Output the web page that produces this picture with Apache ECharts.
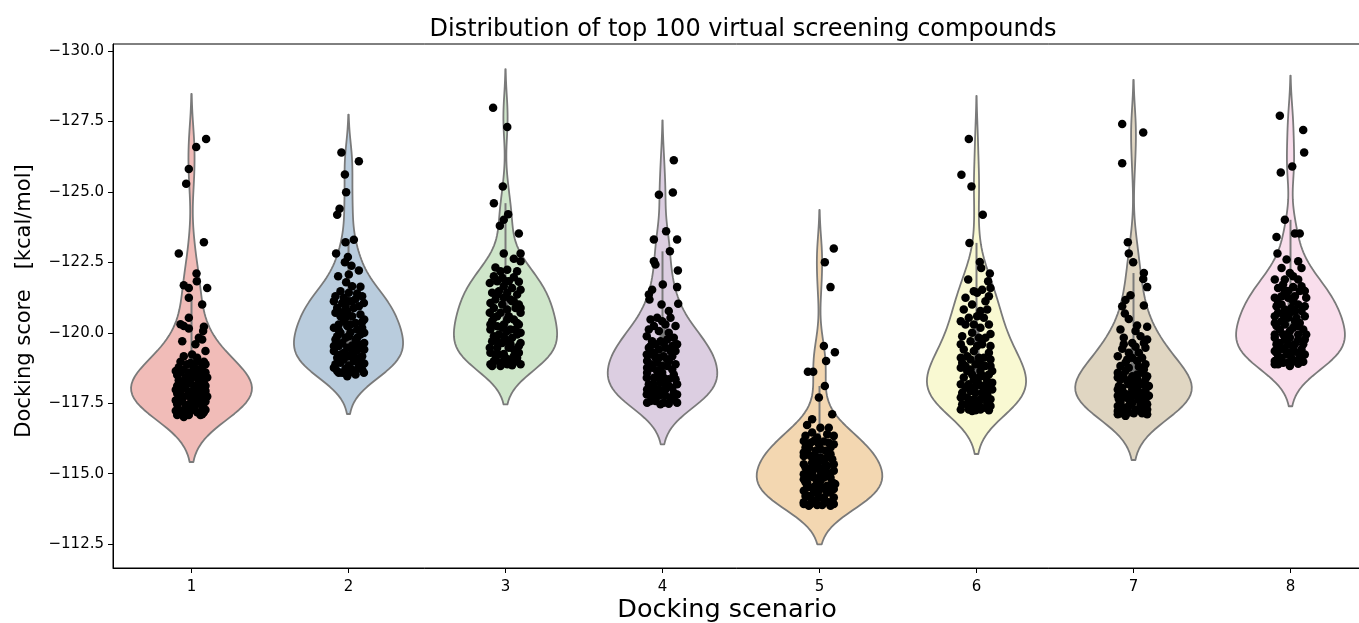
<!DOCTYPE html>
<html>
<head>
<meta charset="utf-8">
<script src="https://cdn.jsdelivr.net/npm/echarts@6/dist/echarts.min.js"></script>
<style>
  html, body { margin: 0; padding: 0; background: #ffffff; }
  #chart { width: 1359px; height: 623px; }
</style>
</head>
<body>
<div id="chart"></div>
<script>
// Docking scenarios on the x axis
const scenarios = ['1', '2', '3', '4', '5', '6', '7', '8'];
// Score ticks on the y axis (kcal/mol)
const scoreTicks = [-130, -127.5, -125, -122.5, -120, -117.5, -115, -112.5];

// Each compound: [horizontal jitter in category units, docking score in kcal/mol]
const strip1 = [
  [0.093,-126.88],[0.030,-126.59],[-0.017,-125.81],[-0.034,-125.29],[0.079,-123.21],[-0.081,-122.81],[0.032,-122.10],[0.034,-121.83],[-0.049,-121.69],[-0.017,-121.59],
  [0.100,-121.59],[-0.017,-121.24],[0.068,-121.00],[-0.017,-120.53],[-0.070,-120.30],[-0.049,-120.24],[-0.017,-120.15],[0.079,-120.21],[0.074,-120.06],[-0.059,-119.70],
  [0.047,-119.82],[0.068,-119.76],[0.025,-119.59],[0.089,-119.35],[0.004,-119.23],[-0.049,-119.17],[0.036,-119.11],
  [-0.070,-118.97],[0.036,-118.97],[0.079,-118.97],[-0.028,-118.88],[0.089,-118.88],[-0.081,-118.78],[0.015,-118.78],[0.068,-118.78],[-0.049,-118.69],[0.047,-118.69],
  [-0.070,-118.59],[-0.017,-118.59],[0.089,-118.59],[-0.091,-118.50],[0.025,-118.50],[0.068,-118.50],[-0.038,-118.41],[0.004,-118.41],[0.100,-118.41],[-0.081,-118.31],
  [0.047,-118.31],[-0.059,-118.22],[-0.006,-118.22],[0.079,-118.22],[-0.091,-118.12],[0.025,-118.12],[0.089,-118.12],[-0.038,-118.03],[0.057,-118.03],[-0.070,-117.93],
  [0.004,-117.93],[0.089,-117.93],[-0.091,-117.84],[-0.017,-117.84],[0.068,-117.84],[-0.049,-117.74],[0.036,-117.74],[0.100,-117.74],[-0.081,-117.65],[0.004,-117.65],
  [0.068,-117.65],[-0.059,-117.56],[0.047,-117.56],[0.089,-117.56],[-0.091,-117.46],[-0.017,-117.46],[0.025,-117.46],[-0.038,-117.37],[0.068,-117.37],[-0.081,-117.27],
  [0.004,-117.27],[0.089,-117.27],[-0.059,-117.18],[0.036,-117.18],[0.079,-117.18],[-0.091,-117.08],[-0.017,-117.08],[0.057,-117.08],
  [-0.006,-118.93],[-0.100,-118.64],[0.015,-118.55],[-0.028,-118.26],[0.068,-118.17],[-0.100,-117.98],[0.036,-117.89],[-0.006,-117.70],[-0.100,-117.60],[0.079,-117.51],
  [0.015,-117.32],[-0.100,-117.23],[-0.028,-117.13],[0.068,-117.11],[-0.049,-117.01]
];
const strip2 = [
  [-0.045,-126.40],[0.066,-126.09],[-0.023,-125.62],[-0.015,-124.99],[-0.057,-124.40],[-0.072,-124.19],[0.034,-123.30],[-0.019,-123.21],[-0.079,-122.81],[-0.004,-122.69],
  [-0.023,-122.50],[0.019,-122.38],[0.066,-122.21],[0.002,-122.07],[-0.066,-122.01],[-0.015,-121.79],[0.076,-121.63],[0.023,-121.65],[-0.051,-121.47],[-0.083,-121.30],
  [0.002,-121.42],[0.055,-121.39],[0.087,-121.30],
  [-0.093,-121.12],[-0.040,-121.06],[0.023,-121.12],[0.098,-121.06],[-0.072,-120.88],[-0.019,-120.94],[0.066,-120.94],[-0.083,-120.71],[0.076,-120.65],[0.023,-120.59],
  [-0.062,-120.29],[0.045,-120.35],[0.087,-120.38],[-0.093,-120.18],[-0.008,-120.24],[0.055,-120.12],[-0.051,-120.00],[0.013,-120.02],[0.076,-119.94],[-0.083,-119.76],
  [-0.019,-119.82],[0.045,-119.74],[0.100,-119.64],[-0.062,-119.53],[0.023,-119.55],[0.087,-119.47],[-0.093,-119.35],[-0.030,-119.29],[0.055,-119.38],[-0.072,-119.11],
  [0.002,-119.17],[0.087,-119.17],[-0.051,-118.94],[0.034,-118.99],[0.100,-118.91],[-0.093,-118.76],[-0.019,-118.72],[0.066,-118.76],[-0.062,-118.58],[0.013,-118.61],
  [0.087,-118.70],
  [-0.030,-121.24],[0.045,-121.20],[-0.008,-120.77],[-0.051,-120.59],[0.100,-120.47],[-0.030,-120.41],[0.013,-120.29],[-0.072,-119.88],[0.087,-120.18],[0.002,-119.88],
  [-0.040,-119.64],[0.066,-119.59],[-0.008,-119.47],[0.100,-119.41],[0.023,-119.29],[-0.051,-119.23],[0.045,-119.11],[-0.030,-119.05],[-0.083,-118.88],[0.066,-118.88],
  [0.002,-118.84],[0.098,-118.58],[-0.040,-118.58],[0.045,-118.52],[-0.008,-118.46],[-0.072,-118.64],[0.023,-118.70],[0.076,-119.11],[-0.093,-119.53],[0.055,-119.82],
  [-0.062,-120.09],[0.100,-120.00],[-0.019,-120.53],[0.034,-120.88],[-0.040,-120.73],[0.002,-121.12]
];
const strip3 = [
  [-0.079,-127.99],[0.011,-127.30],[-0.017,-125.19],[-0.074,-124.60],[0.017,-124.21],[-0.011,-124.01],[-0.036,-123.80],[0.085,-123.52],[-0.011,-122.81],[0.096,-122.81],
  [0.053,-122.63],[0.096,-122.54],[-0.064,-122.32],[0.011,-122.24],[-0.074,-122.01],[0.053,-121.97],[-0.053,-121.83],[0.085,-121.81],[-0.011,-121.65],[0.042,-121.59],
  [-0.085,-121.42],[0.074,-121.36],[-0.011,-121.24],[-0.064,-121.18],[0.042,-121.12],[0.085,-121.00],[-0.074,-120.88],[0.011,-120.83],[-0.032,-120.71],[0.096,-120.71],
  [-0.085,-120.41],[0.053,-120.47],[-0.011,-120.29],[-0.096,-120.12],[0.085,-120.29],[0.032,-120.12],[-0.042,-119.94],[0.074,-119.94],[-0.085,-119.70],[0.011,-119.70],
  [0.096,-119.64],[-0.053,-119.47],[0.053,-119.41],[-0.096,-119.29],[-0.011,-119.25],[0.085,-119.29],[-0.064,-119.05],[0.032,-119.05],[-0.032,-118.94],[-0.096,-118.88],
  [0.074,-118.99],[0.011,-118.88],
  [-0.032,-122.18],[-0.100,-121.77],[0.021,-121.83],[-0.042,-121.47],[0.096,-121.53],[0.011,-121.42],[-0.096,-121.06],[-0.021,-121.00],[0.064,-120.88],[-0.053,-120.59],
  [0.021,-120.59],[-0.100,-120.71],[0.074,-120.35],[-0.053,-120.23],[0.011,-120.06],[-0.074,-119.88],[0.042,-119.82],[-0.021,-119.64],[-0.100,-119.47],[0.021,-119.47],
  [0.085,-119.53],[-0.042,-119.23],[0.053,-119.17],[-0.074,-118.99],[-0.011,-118.99],[0.096,-118.88],[-0.032,-118.82],[0.042,-118.85],[-0.085,-118.82],[0.000,-121.83],
  [0.074,-122.18],[-0.021,-121.95],[0.032,-121.18],[-0.074,-120.53],[0.096,-120.00],[-0.011,-119.88],[0.032,-119.59],[-0.053,-119.70],[0.064,-120.12],[-0.096,-120.29],
  [0.011,-120.47],[-0.021,-120.18],[0.053,-121.12],[-0.053,-121.36],[0.096,-120.88],[-0.064,-119.23],[0.074,-119.11],[0.000,-119.11]
];
const strip4 = [
  [0.072,-126.12],[-0.023,-124.90],[0.066,-124.98],[0.023,-123.60],[-0.055,-123.31],[0.093,-123.31],[0.047,-122.89],[-0.055,-122.54],[-0.045,-122.42],[0.098,-122.21],
  [0.002,-121.71],[0.093,-121.62],[-0.066,-121.53],[-0.087,-121.36],[-0.083,-121.18],[-0.006,-121.00],[0.100,-121.03],[0.040,-120.77],[-0.076,-120.47],[-0.034,-120.53],
  [0.051,-120.53],[0.019,-120.29],[-0.087,-120.12],[0.083,-120.24],[-0.023,-120.06],[0.040,-120.00],[0.072,-119.82],[-0.066,-119.70],[0.008,-119.64],[0.093,-119.59],
  [-0.087,-119.47],[-0.023,-119.41],[0.051,-119.35],[-0.076,-119.23],[0.008,-119.17],[0.062,-119.17],[-0.098,-119.00],[-0.034,-118.94],[0.083,-118.88],[-0.066,-118.76],
  [0.030,-118.82],[-0.098,-118.58],[-0.002,-118.58],[0.072,-118.52],[-0.055,-118.40],[0.040,-118.35],[-0.087,-118.17],[-0.013,-118.23],[0.093,-118.17],[-0.066,-117.93],
  [0.019,-117.99],[0.072,-117.87],[-0.100,-117.81],[-0.023,-117.76],[0.051,-117.70],[-0.076,-117.58],[0.008,-117.52],[0.093,-117.52],
  [-0.055,-120.24],[-0.002,-120.41],[-0.100,-119.88],[0.030,-119.76],[-0.045,-119.59],[0.062,-119.53],[-0.100,-119.23],[-0.023,-119.11],[0.030,-119.05],[-0.076,-118.88],
  [-0.002,-118.82],[0.062,-118.70],[-0.034,-118.64],[-0.100,-118.40],[0.008,-118.40],[0.083,-118.35],[-0.055,-118.17],[0.040,-118.11],[-0.098,-117.99],[-0.023,-117.99],
  [0.062,-118.05],[-0.066,-117.76],[0.019,-117.76],[0.093,-117.81],[-0.045,-117.58],[0.040,-117.48],[-0.098,-117.52],[-0.013,-117.46],[0.072,-117.64],[-0.087,-117.93],
  [-0.002,-117.81],[-0.045,-119.11],[-0.076,-119.53],[0.083,-119.35],[-0.013,-119.70],[0.019,-119.47],[-0.055,-119.29],[0.040,-119.00],[-0.098,-118.76],[-0.023,-118.40],
  [0.019,-118.17],[-0.045,-117.87]
];
const strip5 = [
  [0.091,-122.99],[0.034,-122.50],[0.070,-121.62],[0.028,-119.53],[0.098,-119.31],[0.042,-119.00],[-0.074,-118.62],[-0.040,-118.62],[0.034,-118.11],[-0.004,-117.70],
  [0.081,-117.11],[-0.047,-116.93],[-0.079,-116.73],[0.006,-116.63],[0.059,-116.63],[-0.089,-116.34],[-0.015,-116.28],[0.091,-116.34],[-0.057,-116.10],[0.028,-116.14],
  [-0.089,-115.93],[0.070,-115.93],[-0.025,-115.81],[-0.057,-115.63],[0.006,-115.57],[0.081,-115.51],[-0.100,-115.33],[-0.015,-115.33],[0.049,-115.28],[-0.068,-115.16],
  [0.017,-115.04],[0.091,-115.10],[-0.100,-114.98],[-0.036,-114.86],[0.070,-114.86],[0.006,-114.74],[-0.079,-114.69],[0.049,-114.57],[-0.047,-114.51],[0.100,-114.63],
  [-0.100,-114.39],[-0.004,-114.39],[0.070,-114.33],[-0.068,-114.21],[0.028,-114.15],[-0.100,-113.98],[-0.025,-114.04],[0.059,-113.98],[-0.057,-113.92],[0.017,-113.89],
  [0.091,-113.92],
  [0.049,-116.40],[-0.047,-116.46],[-0.100,-116.16],[-0.004,-116.04],[0.091,-116.04],[-0.079,-115.75],[0.038,-115.81],[-0.100,-115.63],[-0.025,-115.57],[0.049,-115.57],
  [-0.047,-115.39],[0.028,-115.45],[0.091,-115.33],[-0.089,-115.22],[-0.004,-115.16],[0.049,-115.04],[-0.047,-115.04],[-0.100,-114.80],[0.028,-114.86],[-0.015,-114.69],
  [0.081,-114.69],[-0.079,-114.51],[0.017,-114.51],[-0.036,-114.33],[0.049,-114.33],[-0.089,-114.21],[0.091,-114.15],[-0.004,-114.15],[-0.047,-114.04],[0.038,-113.98],
  [-0.100,-113.92],[-0.015,-113.89],[0.070,-113.86],[-0.068,-113.86],[0.028,-115.22],[-0.036,-115.22],[0.070,-115.69],[-0.068,-115.93],[0.006,-115.87],[-0.100,-115.75],
  [-0.036,-116.16],[0.059,-116.10],[-0.068,-114.92],[0.006,-114.92],[0.091,-114.45],[-0.089,-114.69],[-0.025,-114.57],[0.038,-114.45],[-0.057,-114.15]
];
const strip6 = [
  [-0.049,-126.88],[-0.096,-125.61],[-0.032,-125.19],[0.040,-124.19],[-0.045,-123.19],[0.021,-122.51],[0.030,-122.30],[0.085,-122.10],[-0.053,-121.89],[0.074,-121.83],
  [0.089,-121.59],[-0.017,-121.47],[0.036,-121.53],[-0.070,-121.24],[0.004,-121.42],[0.079,-121.30],[0.057,-121.12],[-0.081,-120.83],[0.025,-120.77],[-0.049,-120.53],
  [0.004,-120.59],[0.047,-120.53],[-0.017,-120.29],[-0.070,-120.29],[0.025,-120.18],[0.089,-119.96],[-0.091,-119.88],[0.015,-119.82],[-0.038,-119.70],[0.036,-119.59],
  [-0.081,-119.41],[-0.017,-119.35],[0.079,-119.29],[-0.059,-119.17],[0.015,-119.11],[0.089,-119.05],[-0.091,-118.94],[-0.006,-118.88],[0.057,-118.82],[-0.059,-118.64],
  [0.025,-118.64],[0.100,-118.64],[-0.081,-118.41],[-0.017,-118.35],[0.068,-118.29],[-0.049,-118.17],[0.036,-118.11],[0.100,-117.99],[-0.091,-117.87],[-0.006,-117.87],
  [0.068,-117.82],[-0.059,-117.70],[0.025,-117.64],[0.089,-117.64],[-0.091,-117.46],[-0.017,-117.40],[0.057,-117.34],[-0.049,-117.28],[0.025,-117.28],
  [-0.028,-121.00],[0.068,-120.83],[-0.100,-120.41],[0.079,-120.29],[-0.028,-120.00],[0.057,-119.82],[-0.100,-119.59],[0.004,-119.53],[0.089,-119.53],[-0.038,-119.05],
  [0.047,-119.11],[-0.100,-118.76],[-0.038,-118.70],[0.079,-118.52],[0.015,-118.41],[-0.100,-118.17],[-0.006,-118.11],[0.068,-118.05],[-0.038,-117.93],[0.036,-117.87],
  [-0.100,-117.70],[-0.017,-117.64],[0.068,-117.52],[-0.059,-117.46],[0.015,-117.46],[0.089,-117.40],[-0.100,-117.28],[-0.006,-117.25],[0.079,-117.25],[-0.038,-117.58],
  [0.047,-117.72],[-0.070,-118.05],[0.015,-118.17],[0.100,-118.23],[-0.028,-118.52],[0.047,-118.46],[-0.070,-118.82],[0.025,-118.88],[-0.100,-119.11],[0.089,-118.82],
  [-0.028,-117.22]
];
const strip7 = [
  [-0.072,-127.41],[0.062,-127.11],[-0.072,-126.02],[-0.036,-123.21],[-0.030,-122.81],[-0.002,-122.50],[0.066,-122.12],[0.062,-121.91],[0.087,-121.62],[-0.019,-121.33],
  [-0.051,-121.16],[-0.072,-120.94],[0.066,-120.97],[-0.055,-120.68],[-0.030,-120.49],[0.023,-120.26],[0.087,-120.21],[-0.083,-120.12],[0.013,-120.06],[-0.062,-119.82],
  [0.045,-119.88],[0.087,-119.76],[-0.008,-119.64],[0.076,-119.47],[-0.072,-119.43],[0.013,-119.50],[-0.008,-119.11],[-0.040,-119.05],[0.076,-118.88],[-0.083,-118.82],
  [0.034,-118.79],[-0.051,-118.64],[-0.100,-118.58],[0.055,-118.58],[-0.008,-118.46],[-0.083,-118.35],[0.076,-118.35],[-0.040,-118.29],[0.034,-118.23],[-0.093,-118.11],
  [0.098,-118.11],[-0.008,-117.99],[-0.062,-117.87],[0.055,-117.87],[-0.100,-117.76],[0.013,-117.76],[-0.030,-117.64],[0.076,-117.64],[-0.083,-117.52],[0.045,-117.46],
  [-0.051,-117.34],[-0.100,-117.22],[0.013,-117.28],[0.087,-117.28],[-0.030,-117.17],[0.055,-117.14],[-0.083,-117.14],
  [-0.030,-118.76],[0.066,-118.70],[-0.100,-118.41],[0.023,-118.52],[-0.062,-118.41],[0.055,-118.17],[-0.030,-118.17],[-0.100,-117.99],[0.023,-117.99],[0.076,-117.93],
  [-0.040,-117.81],[-0.093,-117.64],[0.034,-117.61],[-0.008,-117.52],[0.087,-117.46],[-0.100,-117.40],[-0.030,-117.40],[0.066,-117.34],[-0.072,-117.28],[0.002,-117.14],
  [-0.100,-117.11],[0.045,-117.22],[-0.051,-117.05],[0.087,-117.11],[0.013,-118.17],[-0.072,-118.05],[0.002,-117.81],[0.098,-117.76],[-0.062,-117.70],[0.055,-117.70],
  [-0.093,-117.93],[-0.019,-118.29],[0.023,-118.37],[-0.093,-118.52],[0.087,-118.46],[-0.051,-118.94],[0.023,-119.00],[-0.100,-119.17],[0.055,-119.11],[-0.030,-119.29],
  [0.034,-119.29],[-0.062,-119.59],[0.066,-119.64]
];
const strip8 = [
  [-0.068,-127.70],[0.081,-127.20],[0.087,-126.40],[0.011,-125.90],[-0.062,-125.69],[-0.036,-124.01],[-0.089,-123.40],[0.028,-123.52],[0.059,-123.52],[-0.083,-122.81],
  [-0.025,-122.60],[0.049,-122.54],[-0.057,-122.30],[0.070,-122.30],[0.017,-122.01],[-0.036,-121.89],[0.049,-121.89],[-0.079,-121.59],[0.017,-121.62],[-0.057,-121.30],
  [-0.015,-121.24],[0.100,-121.24],[-0.089,-120.94],[0.049,-121.00],[0.091,-120.94],[-0.036,-120.83],[0.028,-120.77],[-0.100,-120.59],[0.091,-120.59],[-0.015,-120.53],
  [-0.057,-120.41],[0.059,-120.35],[-0.089,-120.24],[0.017,-120.18],[0.081,-120.12],[-0.047,-119.94],[0.049,-119.94],[-0.100,-119.82],[-0.004,-119.82],[0.091,-119.76],
  [-0.068,-119.64],[0.028,-119.59],[-0.036,-119.41],[0.070,-119.41],[-0.089,-119.29],[0.006,-119.29],[0.059,-119.17],[-0.057,-119.11],[-0.100,-119.00],[0.028,-119.00],
  [-0.015,-118.94],[0.081,-118.97],[-0.079,-118.88],
  [-0.015,-121.48],[0.059,-121.48],[-0.100,-121.24],[0.017,-121.12],[-0.057,-121.00],[0.070,-120.77],[-0.079,-120.71],[-0.004,-120.71],[0.038,-120.53],[-0.100,-120.35],
  [-0.036,-120.29],[0.049,-120.24],[-0.068,-120.12],[-0.004,-120.06],[0.100,-119.94],[-0.100,-119.94],[-0.036,-119.76],[0.049,-119.76],[-0.089,-119.59],[-0.015,-119.59],
  [0.081,-119.59],[-0.057,-119.47],[0.017,-119.41],[-0.100,-119.35],[-0.025,-119.23],[0.091,-119.23],[-0.079,-119.11],[0.006,-119.11],[0.070,-119.05],[-0.047,-118.94],
  [0.049,-118.90],[-0.100,-118.88],[-0.004,-118.82],[-0.036,-121.48],[0.028,-121.30],[0.091,-121.48],[-0.047,-121.71],[-0.100,-121.89],[-0.004,-122.12],[0.070,-121.65],
  [-0.079,-121.06],[0.006,-120.88],[-0.047,-120.65],[0.028,-120.41],[-0.025,-119.94],[-0.079,-119.35],[0.049,-119.29]
];
const strips = [strip1, strip2, strip3, strip4, strip5, strip6, strip7, strip8];

// Pastel1 palette, desaturated to 75 %
const fills = ['#f1bcb8', '#b9ccdd', '#cfe6ca', '#dccee1', '#f3d7b1', '#f9f9d2', '#e0d6c2', '#f9deec'];
const edgeGray = '#7a7a7a';
const FONT = 'DejaVu Sans';

// Gaussian KDE (Scott's rule), support extended by two bandwidths on each side
const GRID_SIZE = 100, CUT = 2, HALF_WIDTH = 0.4;
function quantile(sorted, p) {
  const idx = (sorted.length - 1) * p;
  const lo = Math.floor(idx), hi = Math.ceil(idx);
  return sorted[lo] + (sorted[hi] - sorted[lo]) * (idx - lo);
}
const violins = strips.map((pts, i) => {
  const vals = pts.map(p => p[1]);
  const n = vals.length;
  const sorted = vals.slice().sort((a, b) => a - b);
  const mean = vals.reduce((a, b) => a + b, 0) / n;
  const sd = Math.sqrt(vals.reduce((a, b) => a + (b - mean) * (b - mean), 0) / (n - 1));
  const bw = Math.pow(n, -0.2) * sd;
  const lo = sorted[0] - CUT * bw, hi = sorted[n - 1] + CUT * bw;
  const support = [], dens = [];
  for (let k = 0; k < GRID_SIZE; k++) {
    const y = lo + (hi - lo) * k / (GRID_SIZE - 1);
    let s = 0;
    for (const v of vals) { const z = (y - v) / bw; s += Math.exp(-0.5 * z * z); }
    support.push(y);
    dens.push(s / (n * bw * Math.sqrt(2 * Math.PI)));
  }
  const q25 = quantile(sorted, 0.25), q50 = quantile(sorted, 0.5), q75 = quantile(sorted, 0.75);
  const lim = 1.5 * (q75 - q25);
  const whiskLo = Math.min(...sorted.filter(v => v >= q25 - lim));
  const whiskHi = Math.max(...sorted.filter(v => v <= q75 + lim));
  return { center: i, support, dens, q25, q50, q75, whiskLo, whiskHi };
});
const peakDensity = Math.max(...violins.map(v => Math.max(...v.dens)));

const chart = echarts.init(document.getElementById('chart'), null, { renderer: 'canvas' });

const stripData = [];
strips.forEach((pts, i) => pts.forEach(([j, s]) => stripData.push([i + j, s])));

const option = {
  animation: false,
  backgroundColor: '#ffffff',
  textStyle: { fontFamily: FONT },
  title: {
    text: 'Distribution of top 100 virtual screening compounds',
    left: 738,
    top: 13,
    textAlign: 'center',
    textStyle: { fontFamily: FONT, fontSize: 24, fontWeight: 'normal', color: '#000' }
  },
  grid: {
    left: 113, top: 44, width: 1256, height: 524,
    outerBoundsMode: 'none',
    containLabel: false,
    show: true, borderColor: '#000', borderWidth: 1, backgroundColor: 'transparent'
  },
  xAxis: {
    type: 'value',
    min: -0.5, max: 7.5,
    name: 'Docking scenario',
    nameLocation: 'middle',
    nameGap: 29,
    nameMoveOverlap: false,
    nameTextStyle: { fontFamily: FONT, fontSize: 25.5, color: '#000', padding: [0, 28, 0, 0] },
    axisLine: { show: true, onZero: false, lineStyle: { color: '#000', width: 1 } },
    axisTick: { show: true, length: 5, lineStyle: { color: '#000', width: 1 },
      customValues: scenarios.map((c, i) => i) },
    axisLabel: { show: true, margin: 12, fontFamily: FONT, fontSize: 15, color: '#000',
      customValues: scenarios.map((c, i) => i),
      formatter: v => scenarios[Math.round(v)] },
    splitLine: { show: false }
  },
  yAxis: {
    type: 'value',
    inverse: true,
    min: -130.25, max: -111.65,
    name: 'Docking score   [kcal/mol]',
    nameLocation: 'middle',
    nameGap: 78,
    nameMoveOverlap: false,
    nameTextStyle: { fontFamily: FONT, fontSize: 21, color: '#000', padding: [0, 0, 0, 10] },
    axisLine: { show: true, onZero: false, lineStyle: { color: '#000', width: 1 } },
    axisTick: { show: true, length: 5, lineStyle: { color: '#000', width: 1 }, customValues: scoreTicks },
    axisLabel: { show: true, margin: 9, fontFamily: FONT, fontSize: 15, color: '#000',
      customValues: scoreTicks,
      formatter: v => '\u2212' + Math.abs(v).toFixed(1) },
    splitLine: { show: false }
  },
  series: [
    {
      type: 'custom',
      name: 'violins',
      silent: true,
      z: 2,
      data: violins.map(v => [v.center, v.q50]),
      encode: { x: 0, y: 1 },
      renderItem: (params, api) => {
        const v = violins[params.dataIndex];
        const c = v.center;
        const right = v.support.map((y, k) => api.coord([c + HALF_WIDTH * v.dens[k] / peakDensity, y]));
        const left = v.support.map((y, k) => api.coord([c - HALF_WIDTH * v.dens[k] / peakDensity, y])).reverse();
        const wLo = api.coord([c, v.whiskLo]), wHi = api.coord([c, v.whiskHi]);
        const bLo = api.coord([c, v.q25]), bHi = api.coord([c, v.q75]);
        const med = api.coord([c, v.q50]);
        return {
          type: 'group',
          children: [
            { type: 'polygon', shape: { points: right.concat(left) },
              style: { fill: fills[params.dataIndex], stroke: edgeGray, lineWidth: 1.8, lineJoin: 'round' } },
            { type: 'line', shape: { x1: wLo[0], y1: wLo[1], x2: wHi[0], y2: wHi[1] },
              style: { stroke: edgeGray, lineWidth: 2 } },
            { type: 'line', shape: { x1: bLo[0], y1: bLo[1], x2: bHi[0], y2: bHi[1] },
              style: { stroke: edgeGray, lineWidth: 6 } },
            { type: 'circle', shape: { cx: med[0], cy: med[1], r: 2 },
              style: { fill: '#ffffff', stroke: edgeGray, lineWidth: 1 } }
          ]
        };
      }
    },
    {
      type: 'scatter',
      name: 'compounds',
      silent: true,
      z: 3,
      symbol: 'circle',
      symbolSize: 8.5,
      itemStyle: { color: '#000000', opacity: 1 },
      data: stripData
    }
  ]
};
chart.setOption(option);
</script>
</body>
</html>
